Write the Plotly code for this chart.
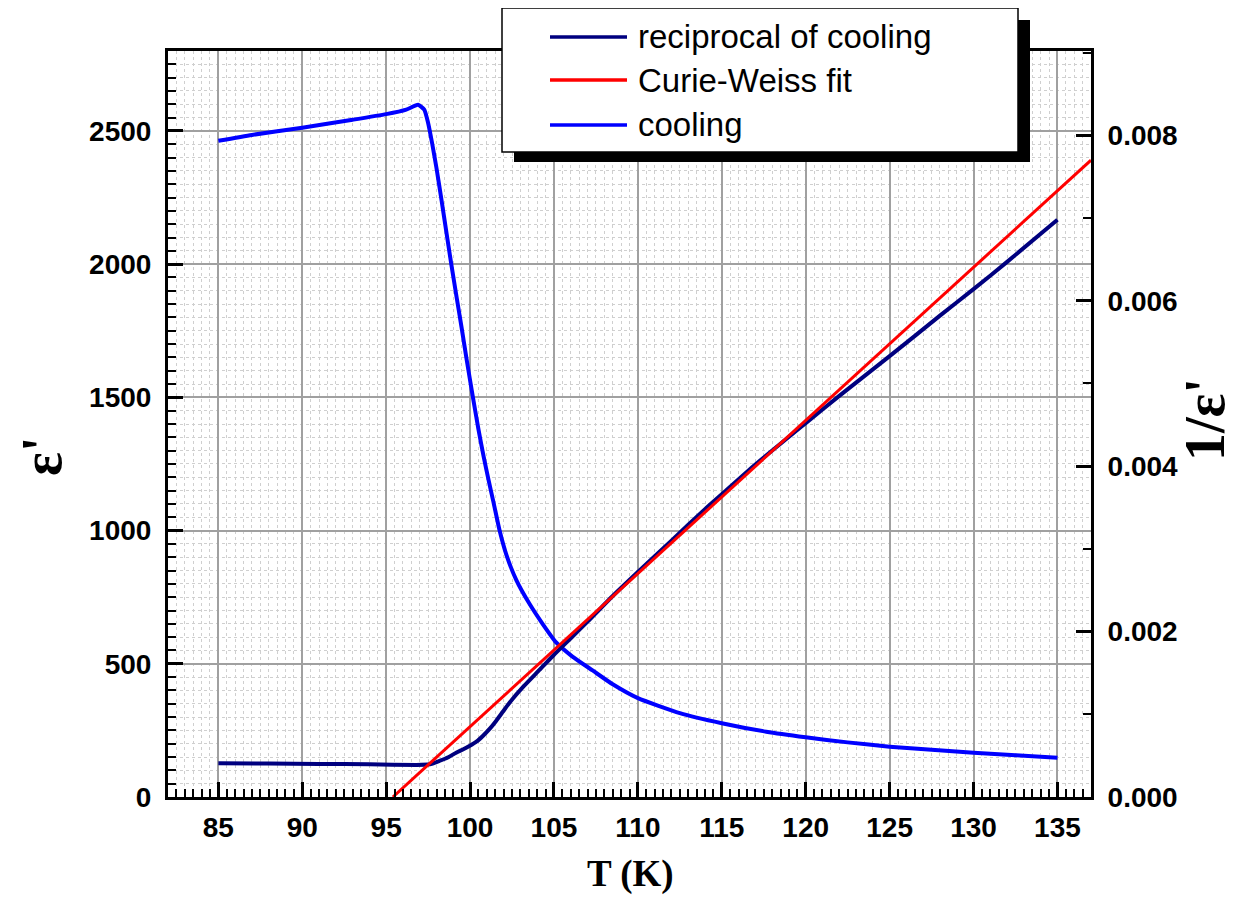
import plotly.graph_objects as go

# ---------------- data ----------------
cool_T = [85, 87, 90, 93, 95, 96.2, 96.9, 97.27, 97.5, 97.75, 98.0, 98.3, 98.6, 98.88,
          99.2, 99.5, 99.8, 100.17, 100.5, 100.8, 101.1, 101.4, 101.76, 102.15,
          102.75, 103.54, 104.34, 105.13, 106.1, 107.3, 108.5, 110, 112.5, 115,
          117.65, 120, 122.5, 125, 127.5, 130, 132.5, 135]
cool_eps = [2463, 2485, 2512, 2542, 2563, 2580, 2598, 2580, 2530, 2450, 2360, 2240, 2115, 2000,
            1875, 1760, 1640, 1500, 1380, 1280, 1190, 1105, 1000, 912,
            815, 725, 648, 580, 527, 475, 423, 371, 315, 277,
            245, 224, 205, 189, 177, 166, 157, 147]

inv_T = [85, 88, 91, 94, 96.8, 97.6, 98.17, 98.7, 99.17, 99.6, 99.96, 100.4, 100.76,
         101.15, 101.55, 101.95, 102.35, 103.2, 104.15, 105, 106, 107, 108.5, 110,
         112, 114, 115, 117, 120, 122, 125, 128, 130, 132, 135]
inv_eps = [0.000408, 0.000404, 0.000400, 0.000395, 0.000388, 0.000395, 0.000436, 0.000480,
           0.000536, 0.000578, 0.000617, 0.000672, 0.000738, 0.000820, 0.000920, 0.00103,
           0.00114, 0.00134, 0.00154, 0.00172, 0.00192, 0.00212, 0.00243, 0.00272,
           0.00310, 0.00348, 0.00366, 0.00402, 0.00452, 0.00485, 0.00533, 0.00582,
           0.00614, 0.00647, 0.00698]

fit_T = [95.4, 137.0]
fit_inv = [0.0, 0.0077]

legend_names = ["reciprocal of cooling", "Curie-Weiss fit", "cooling"]
NAVY, RED, BLUE = "#00007F", "#FF0000", "#0000FF"
legend_colors = [NAVY, RED, BLUE]

# ---------------- figure ----------------
fig = go.Figure()
fig.add_trace(go.Scatter(x=cool_T, y=cool_eps, mode="lines", name=legend_names[2],
                         line=dict(color=BLUE, width=4, shape="spline", smoothing=0.5),
                         yaxis="y", showlegend=False))
fig.add_trace(go.Scatter(x=inv_T, y=inv_eps, mode="lines", name=legend_names[0],
                         line=dict(color=NAVY, width=4, shape="spline", smoothing=0.5),
                         yaxis="y2", showlegend=False))
fig.add_trace(go.Scatter(x=fit_T, y=fit_inv, mode="lines", name=legend_names[1],
                         line=dict(color=RED, width=3), yaxis="y2", showlegend=False))

TICKFONT = dict(family="Liberation Sans, Arial", size=28, color="black", weight="bold")
SERIF = "Liberation Serif, Times New Roman"

# the page has an 8px body margin, so the figure sits at (8, 8)
OFF = 8
W, H = 1245 - 2 * OFF, 903 - 2 * OFF
PX_L, PX_R, PX_T, PX_B = 168, 1091, 51, 797   # plot-area edges in page pixels
L, R, T, B = PX_L - OFF, (OFF + W) - PX_R, PX_T - OFF, (OFF + H) - PX_B


def px2paper(x, y):
    return (x - PX_L) / (PX_R - PX_L), (PX_B - y) / (PX_B - PX_T)


fig.update_layout(
    width=W, height=H,
    margin=dict(l=L, r=R, t=T, b=B, autoexpand=False),
    paper_bgcolor="white", plot_bgcolor="white",
    showlegend=False,
    xaxis=dict(
        range=[82, 137], dtick=5, tick0=0, automargin=False,
        showline=True, linecolor="black", linewidth=3, mirror=True,
        ticks="inside", ticklen=15, tickwidth=3, tickcolor="black",
        tickfont=TICKFONT, ticklabelstandoff=3,
        showgrid=True, gridcolor="#a0a0a0", gridwidth=1.5, zeroline=False,
        minor=dict(dtick=0.5, ticks="inside", ticklen=8, tickwidth=2, tickcolor="black",
                   showgrid=True, gridcolor="#cfcfcf", griddash="dot", gridwidth=1),
    ),
    yaxis=dict(
        range=[0, 2800], dtick=500, tick0=0, automargin=False,
        showline=True, linecolor="black", linewidth=3,
        ticks="inside", ticklen=15, tickwidth=3, tickcolor="black",
        tickfont=TICKFONT, ticklabelstandoff=8,
        showgrid=True, gridcolor="#a0a0a0", gridwidth=1.5, zeroline=False,
        minor=dict(dtick=50, ticks="inside", ticklen=8, tickwidth=2, tickcolor="black",
                   showgrid=True, gridcolor="#cfcfcf", griddash="dot", gridwidth=1),
    ),
    yaxis2=dict(
        overlaying="y", side="right", automargin=False,
        range=[0, 0.00902], dtick=0.002, tick0=0, tickformat=".3f",
        showline=True, linecolor="black", linewidth=3,
        ticks="inside", ticklen=15, tickwidth=3, tickcolor="black",
        tickfont=TICKFONT, ticklabelstandoff=8,
        showgrid=False, zeroline=False,
        minor=dict(dtick=0.001, ticks="inside", ticklen=8, tickwidth=2, tickcolor="black",
                   showgrid=False),
    ),
)

# axis titles
xtx, xty = px2paper(630, 874)
fig.add_annotation(xref="paper", yref="paper", x=xtx, y=xty, text="T (K)",
                   showarrow=False, xanchor="center", yanchor="middle",
                   font=dict(size=37, family=SERIF, color="black", weight="bold"))
lx, ly = px2paper(42, 457)
fig.add_annotation(xref="paper", yref="paper", x=lx, y=ly, text="ε'", textangle=-90,
                   showarrow=False, xanchor="center", yanchor="middle",
                   font=dict(size=56, family=SERIF, color="black", weight="bold"))
rx, ry_ = px2paper(1205, 420)
fig.add_annotation(xref="paper", yref="paper", x=rx, y=ry_, text="1/ε'", textangle=-90,
                   showarrow=False, xanchor="center", yanchor="middle",
                   font=dict(size=56, family=SERIF, color="black", weight="bold"))

# ---------------- legend box with drop shadow (drawn manually) ----------------
sx0, sy0 = px2paper(514, 20)
sx1, sy1 = px2paper(1030, 162)
bx0, by0 = px2paper(502, 8)
bx1, by1 = px2paper(1018, 152)
fig.add_shape(type="rect", xref="paper", yref="paper", x0=sx0, x1=sx1, y0=sy1, y1=sy0,
              fillcolor="black", line=dict(width=0), layer="above")
fig.add_shape(type="rect", xref="paper", yref="paper", x0=bx0, x1=bx1, y0=by1, y1=by0,
              fillcolor="white", line=dict(color="black", width=1.5), layer="above")

rows_y = [37, 80, 125]
for name, col, ry in zip(legend_names, legend_colors, rows_y):
    lx0, lyy = px2paper(550, ry)
    lx1, _ = px2paper(627, ry)
    fig.add_shape(type="line", xref="paper", yref="paper", x0=lx0, x1=lx1, y0=lyy, y1=lyy,
                  line=dict(color=col, width=3.5), layer="above")
    tx, _ = px2paper(636, ry)
    fig.add_annotation(xref="paper", yref="paper", x=tx, y=lyy, text=name, showarrow=False,
                       xanchor="left", yanchor="middle",
                       font=dict(family="Liberation Sans, Arial", size=33, color="black"))

fig.write_html("out.html")
